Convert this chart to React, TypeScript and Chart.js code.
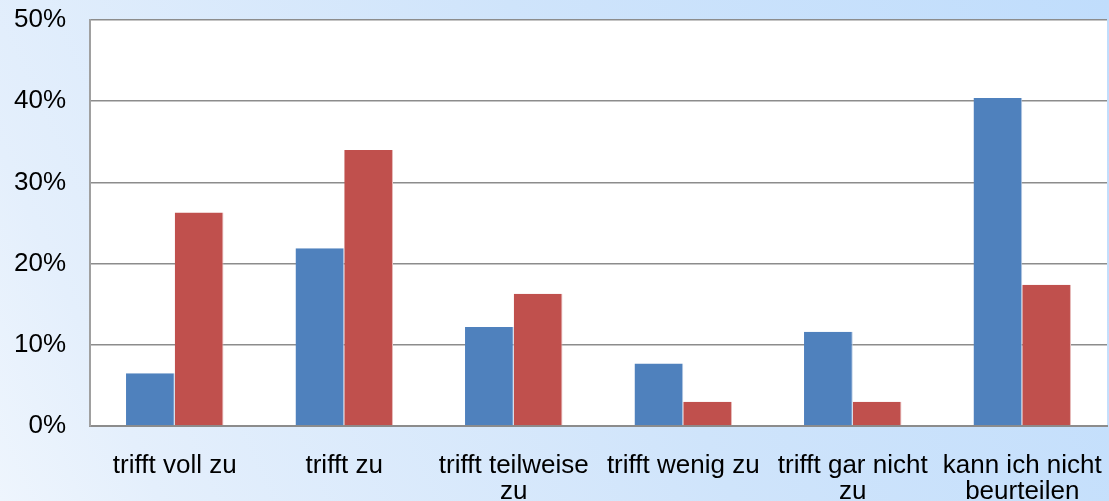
import React, { useEffect, useRef } from "react";
import { Chart, registerables } from "chart.js";

Chart.register(...registerables);

const categories: (string | string[])[] = [
  "trifft voll zu",
  "trifft zu",
  ["trifft teilweise", "zu"],
  "trifft wenig zu",
  ["trifft gar nicht", "zu"],
  ["kann ich nicht", "beurteilen"],
];
const seriesBlue = [6.5, 21.9, 12.2, 7.7, 11.6, 40.4];
const seriesRed = [26.3, 34.0, 16.3, 3.0, 3.0, 17.4];
const yMin = 0;
const yMax = 50;
const yStep = 10;

const bgPlugin = {
  id: "bgPlugin",
  beforeDraw(chart: any) {
    const { ctx, width, height, chartArea } = chart;
    ctx.save();
    const g = ctx.createLinearGradient(0, height, width, 0);
    g.addColorStop(0, "#eef5fd");
    g.addColorStop(0.12, "#e4effc");
    g.addColorStop(0.55, "#cfe4fb");
    g.addColorStop(1, "#c0ddfc");
    ctx.fillStyle = g;
    ctx.fillRect(0, 0, width, height);
    ctx.fillStyle = "#ffffff";
    ctx.fillRect(chartArea.left, chartArea.top, chartArea.right - chartArea.left, chartArea.bottom - chartArea.top);
    ctx.restore();
  },
};

const zeroPad = (scale: any) => {
  scale.paddingTop = 0;
  scale.paddingBottom = 0;
  scale.paddingLeft = 0;
  scale.paddingRight = 0;
};

export default function App() {
  const ref = useRef<HTMLCanvasElement>(null);
  useEffect(() => {
    if (!ref.current) return;
    const chart = new Chart(ref.current, {
      type: "bar",
      data: {
        labels: categories,
        datasets: [
          {
            label: "A",
            data: seriesBlue,
            backgroundColor: "#4f81bd",
            borderColor: "#b9cde5",
            borderWidth: { left: 0, right: 1, top: 0, bottom: 0 },
            categoryPercentage: 0.575,
            barPercentage: 1,
          },
          {
            label: "B",
            data: seriesRed,
            backgroundColor: "#c0504d",
            borderColor: "#e6b9b8",
            borderWidth: { left: 0, right: 1, top: 0, bottom: 0 },
            categoryPercentage: 0.575,
            barPercentage: 1,
          },
        ],
      },
      options: {
        animation: false,
        responsive: false,
        maintainAspectRatio: false,
        layout: { padding: { top: 20, right: 2, left: 0, bottom: 0 } },
        plugins: {
          legend: { display: false },
          tooltip: { enabled: false },
        },
        scales: {
          x: {
            grid: { display: false, drawTicks: false },
            border: { display: true, color: "#8c8c8c", width: 2 },
            ticks: {
              color: "#000000",
              font: { family: "'Liberation Sans', Arial, sans-serif", size: 26, lineHeight: 1.0 },
              padding: 27,
              maxRotation: 0,
              autoSkip: false,
            },
            afterFit: (scale: any) => {
              scale.height = 75;
              zeroPad(scale);
            },
          },
          y: {
            min: yMin,
            max: yMax,
            ticks: {
              stepSize: yStep,
              color: "#000000",
              font: { family: "'Liberation Sans', Arial, sans-serif", size: 26 },
              padding: 24,
              callback: (v: any) => v + "%",
            },
            grid: { color: "#8c8c8c", lineWidth: 1.5, drawTicks: false },
            border: { display: true, color: "#a0a0a0", width: 2 },
            afterFit: (scale: any) => {
              scale.width = 90;
              zeroPad(scale);
            },
          },
        },
      },
      plugins: [bgPlugin],
    });
    return () => chart.destroy();
  }, []);
  return (
    <div style={{ position: "fixed", left: 0, top: 0, width: 1109, height: 501 }}>
      <canvas ref={ref} width={1109} height={501} style={{ width: 1109, height: 501 }} />
    </div>
  );
}
